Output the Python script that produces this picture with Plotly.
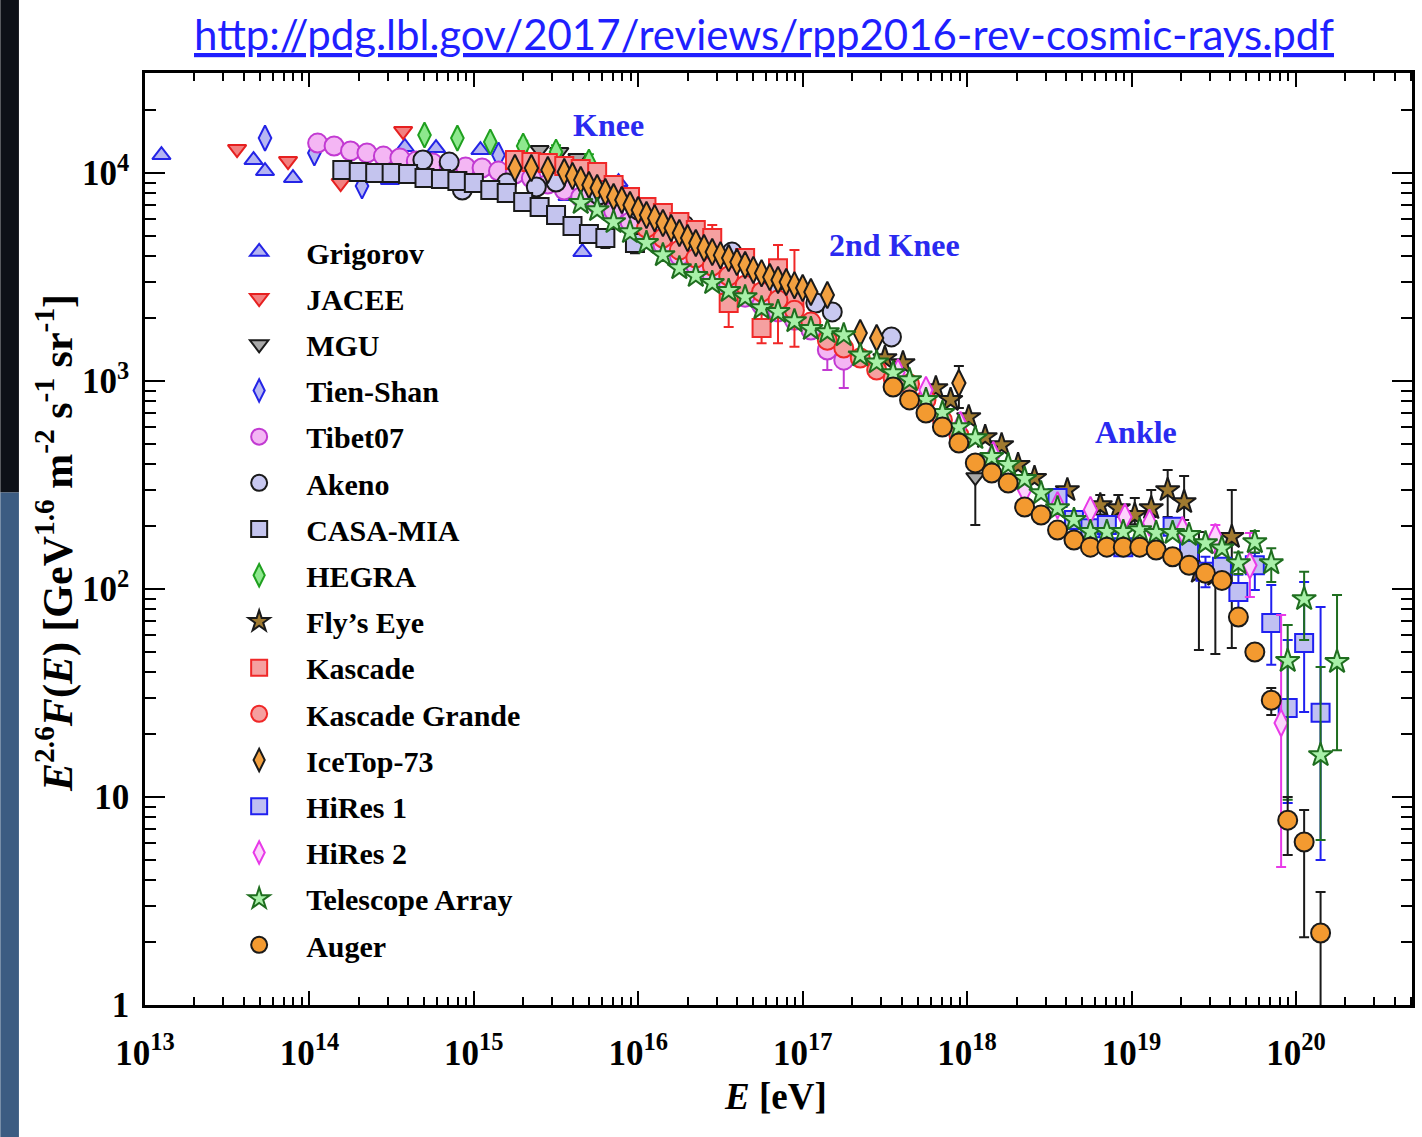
import numpy as np
import plotly.graph_objects as go

# ---------------- data: log10(E/eV) and E^2.6 F(E) [GeV^1.6 m^-2 s^-1 sr^-1] ----------------
grigorov_lgE = [13.10, 13.66, 13.73, 13.90, 14.49, 14.58, 14.77, 15.04, 15.57, 15.66, 15.88]
grigorov_F = [12200, 11550, 10220, 9460, 9250, 13340, 13180, 12900, 7750, 4170, 9050]

jacee_lgE = [13.56, 13.87, 14.19, 14.57]
jacee_F = [13040, 11420, 8950, 15920]

mgu_lgE = [15.40, 15.52, 15.63, 16.00, 18.05]
mgu_F = [12900, 12620, 11810, 7180, 345]
mgu_err = {18.05: (373, 203)}

tienshan_lgE = [13.73, 14.03, 14.32, 15.15]
tienshan_F = [14720, 12480, 8660, 12200]

tibet_lgE = [14.05, 14.15, 14.25, 14.35, 14.45, 14.55, 14.65, 14.75, 14.85, 14.95, 15.05,
             15.15, 15.25, 15.35, 15.45, 15.55, 15.65, 15.75, 15.85, 15.95, 16.05, 16.15,
             16.25, 16.35, 16.45, 16.55, 16.65, 16.75, 16.85, 16.95, 17.05, 17.15, 17.25]
tibet_F = [13930, 13490, 12760, 12480, 12070, 11810, 11420, 11170, 10930, 10690, 10570,
           10220, 9890, 9460, 8850, 8290, 7670, 7100, 6570, 5810, 5150, 4510,
           3990, 3570, 3230, 2890, 2530, 2320, 2150, 1960, 1760, 1410, 1260]
tibet_err = {17.15: (1660, 1130), 17.25: (1500, 925)}

akeno_lgE = [14.69, 14.85, 14.93, 15.20, 15.38, 15.50, 15.76, 16.00, 16.28, 16.57, 16.82,
             17.08, 17.18, 17.54]
akeno_F = [11550, 11290, 8290, 8950, 8570, 9050, 7840, 6640, 5620, 4170, 2890, 2370, 2150, 1630]

casa_lgE = [14.20, 14.30, 14.40, 14.50, 14.60, 14.70, 14.80, 14.90, 15.00, 15.10, 15.20,
            15.30, 15.40, 15.50, 15.60, 15.70, 15.80, 15.98]
casa_F = [10340, 10110, 10000, 10000, 9890, 9460, 9360, 9150, 8950, 8290, 8010,
          7260, 6860, 6280, 5560, 5090, 4870, 4610]
casa_err = {15.80: (5100, 4360), 15.98: (4850, 4120)}

hegra_lgE = [14.70, 14.90, 15.10, 15.30, 15.50, 15.70]
hegra_F = [15230, 14720, 14100, 13490, 12620, 11290]
hegra_err = {15.30: (14300, 12700), 15.50: (13600, 11700), 15.70: (12300, 10300)}

flyseye_lgE = [17.50, 17.61, 17.81, 17.90, 18.01, 18.11, 18.21, 18.31, 18.41, 18.61, 18.81,
               18.92, 19.02, 19.12, 19.22, 19.32, 19.41, 19.51, 19.61]
flyseye_F = [1290, 1220, 925, 811, 671, 538, 492, 395, 342, 299, 253, 245, 227, 245, 299,
             262, 121, 117, 178]
flyseye_err = {18.81: (283, 228), 18.92: (283, 222), 19.02: (274, 205), 19.12: (299, 222),
               19.22: (373, 222), 19.32: (349, 215), 19.41: (188, 50.9), 19.51: (186, 48.7),
               19.61: (299, 52.0)}

kascade_lgE = [15.25, 15.35, 15.45, 15.55, 15.65, 15.75, 15.85, 15.95, 16.05, 16.15, 16.25,
               16.35, 16.45, 16.55, 16.65, 16.75, 16.85, 16.95]
kascade_F = [11550, 11290, 11170, 10810, 10450, 10110, 8760, 7670, 6860, 6420, 5810,
             5320, 4870, 2370, 3900, 1800, 3490, 2510]
kascade_err = {16.45: (5620, 4260), 16.55: (2740, 1820), 16.75: (2120, 1520),
               16.85: (4510, 1520), 16.95: (4260, 1460)}

kgrande_lgE = [16.05, 16.15, 16.25, 16.35, 16.45, 16.55, 16.65, 16.75, 16.85, 16.95, 17.05,
               17.15, 17.25, 17.35, 17.45, 17.55, 17.65, 17.75, 17.85, 17.95]
kgrande_F = [5440, 4870, 4260, 3900, 3570, 3200, 2890, 2680, 2450, 2190, 1920,
             1570, 1440, 1290, 1130, 1030, 967, 811, 649, 550]

icetop_lgE = [15.25, 15.35, 15.45, 15.55, 15.60, 15.65, 15.70, 15.75, 15.80, 15.85, 15.90,
              15.95, 16.00, 16.05, 16.10, 16.15, 16.20, 16.25, 16.30, 16.35, 16.40, 16.45,
              16.50, 16.55, 16.60, 16.65, 16.70, 16.75, 16.80, 16.85, 16.90, 16.95, 17.00,
              17.05, 17.15, 17.35, 17.45, 17.95]
icetop_F = [10570, 10570, 10340, 10110, 9670, 9250, 8760, 8470, 8100, 7670, 7420,
            7020, 6640, 6280, 6070, 5750, 5440, 5150, 4870, 4610, 4360, 4170,
            4030, 3900, 3730, 3610, 3420, 3300, 3160, 3060, 2990, 2890, 2800,
            2680, 2590, 1700, 1610, 978]
icetop_err = {17.95: (1180, 742)}

hires1_lgE = [18.55, 18.65, 18.75, 18.85, 18.95, 19.25, 19.35, 19.45, 19.55, 19.65, 19.75,
              19.85, 19.95, 20.05, 20.15]
hires1_F = [274, 215, 196, 203, 159, 199, 154, 121, 128, 96.8, 130, 68.7, 26.8, 55.0, 25.4]
hires1_err = {19.35: (172, 138), 19.45: (143, 102), 19.65: (117, 77.5), 19.75: (149, 98.9),
              19.85: (104.5, 43.2), 19.95: (56.9, 9.35), 20.05: (108, 25.6), 20.15: (81.9, 4.98)}

hires2_lgE = [17.58, 17.75, 17.96, 18.16, 18.35, 18.55, 18.75, 18.96, 19.11, 19.31, 19.51,
              19.72, 19.91]
hires2_F = [1100, 906, 614, 441, 299, 253, 240, 222, 208, 192, 178, 130, 22.7]
hires2_err = {19.51: (203, 150), 19.72: (186, 91.5), 19.91: (75.0, 4.61)}

ta_lgE = [15.65, 15.75, 15.85, 15.95, 16.05, 16.15, 16.25, 16.35, 16.45, 16.55, 16.65, 16.75,
          16.85, 16.95, 17.05, 17.15, 17.25, 17.35, 17.45, 17.55, 17.65, 17.75, 17.85, 17.95,
          18.05, 18.15, 18.25, 18.35, 18.45, 18.55, 18.65, 18.75, 18.85, 18.95, 19.05, 19.15,
          19.25, 19.35, 19.45, 19.55, 19.65, 19.75, 19.85, 19.95, 20.05, 20.15, 20.25]
ta_F = [7180, 6640, 5810, 5200, 4610, 4030, 3490, 3200, 2960, 2710, 2530, 2240,
        2150, 1940, 1780, 1720, 1660, 1330, 1230, 1090, 1010, 811, 702, 601,
        532, 432, 395, 338, 289, 245, 215, 188, 188, 188, 192, 186,
        186, 182, 166, 157, 133, 168, 133, 45.1, 89.5, 15.9, 44.6]
ta_err = {19.65: (150, 118), 19.75: (190, 150), 19.85: (157, 108), 19.95: (67.1, 9.7),
          20.05: (121, 56.9), 20.15: (42.2, 6.21), 20.25: (93.6, 16.8)}

auger_lgE = [17.55, 17.65, 17.75, 17.85, 17.95, 18.05, 18.15, 18.25, 18.35, 18.45, 18.55,
             18.65, 18.75, 18.85, 18.95, 19.05, 19.15, 19.25, 19.35, 19.45, 19.55, 19.65,
             19.75, 19.85, 19.95, 20.05, 20.15]
auger_F = [936, 811, 702, 601, 503, 404, 361, 323, 248, 227, 192, 172, 159, 159, 159, 159,
           154, 143, 130, 119, 110, 73.3, 49.8, 29.2, 7.74, 6.08, 2.22]
auger_err = {19.65: (80, 67), 19.75: (54, 46), 19.85: (33.4, 24.8), 19.95: (10.0, 5.26),
             20.05: (8.66, 2.12), 20.15: (3.49, 0.3)}

x_tick_exp = [13, 14, 15, 16, 17, 18, 19, 20]
y_tick_vals = [1, 10, 100, 1000, 10000]
y_tick_text = ["1", "10", "10<sup>2</sup>", "10<sup>3</sup>", "10<sup>4</sup>"]

# ---------------- styling ----------------
SERIF = "Liberation Serif"
datasets = [
    ("Grigorov", grigorov_lgE, grigorov_F, {}, "triangle-up", 16, "#b4b4f2", "#2424e6"),
    ("JACEE", jacee_lgE, jacee_F, {}, "triangle-down", 16, "#f28080", "#e62020"),
    ("MGU", mgu_lgE, mgu_F, mgu_err, "triangle-down", 16, "#a8a8a8", "#1a1a1a"),
    ("Tien-Shan", tienshan_lgE, tienshan_F, {}, "diamond-tall", 18, "#b8b8f2", "#2424e6"),
    ("Tibet07", tibet_lgE, tibet_F, tibet_err, "circle", 19, "#f4b6f4", "#c23ad2"),
    ("Akeno", akeno_lgE, akeno_F, {}, "circle", 19, "#c8c8f0", "#1a1a1a"),
    ("CASA-MIA", casa_lgE, casa_F, casa_err, "square", 18, "#c4c4ee", "#1a1a1a"),
    ("HEGRA", hegra_lgE, hegra_F, hegra_err, "diamond-tall", 18, "#8ee88e", "#1fa01f"),
    ("Fly\u2019s Eye", flyseye_lgE, flyseye_F, flyseye_err, "star", 18, "#a07a30", "#1a1a1a"),
    ("Kascade", kascade_lgE, kascade_F, kascade_err, "square", 18, "#f5a0a0", "#f02828"),
    ("Kascade Grande", kgrande_lgE, kgrande_F, {}, "circle", 19, "#f5a0a0", "#f02828"),
    ("IceTop-73", icetop_lgE, icetop_F, icetop_err, "diamond-tall", 19, "#f2a040", "#1a1a1a"),
    ("HiRes 1", hires1_lgE, hires1_F, hires1_err, "square", 18, "#c0c0f2", "#2020f0"),
    ("HiRes 2", hires2_lgE, hires2_F, hires2_err, "diamond-tall", 19, "#fcd4fc", "#e83ae8"),
    ("Telescope Array", ta_lgE, ta_F, ta_err, "star", 18, "#a8f0a8", "#1f6e1f"),
    ("Auger", auger_lgE, auger_F, auger_err, "circle", 19, "#f39a30", "#1a1a1a"),
]


def err_arrays(lgE, F, err):
    plus, minus = [], []
    for x, f in zip(lgE, F):
        if x in err:
            hi, lo = err[x]
            plus.append(hi - f)
            minus.append(f - lo)
        else:
            plus.append(0)
            minus.append(0)
    return plus, minus


fig = go.Figure()
for i, (name, lgE, F, err, sym, size, fill, edge) in enumerate(datasets):
    plus, minus = err_arrays(lgE, F, err)
    fig.add_trace(go.Scatter(
        x=np.power(10.0, lgE), y=F, mode="markers", name=name,
        legendgroup="g%d" % i,
        marker=dict(symbol=sym, size=size, color=fill, line=dict(color=edge, width=2)),
        error_y=dict(type="data", symmetric=False, array=plus, arrayminus=minus,
                     color=edge, thickness=2, width=5),
    ))

axis_common = dict(
    type="log", showgrid=False, zeroline=False, showline=True, linecolor="black",
    linewidth=2.5, mirror="allticks", ticks="inside", tickwidth=2, tickcolor="black",
    tickfont=dict(family=SERIF, size=35, color="black"),
)
fig.update_xaxes(
    **axis_common, range=[13, 20.706], tickmode="array",
    tickvals=[10.0 ** e for e in x_tick_exp],
    ticktext=["<b>10<sup>%d</sup></b>" % e for e in x_tick_exp],
    ticklen=14, ticklabelstandoff=15,
    minor=dict(ticks="inside", ticklen=8, tickwidth=2, tickcolor="black", dtick="D1"),
)
fig.update_yaxes(
    **axis_common, range=[0, 4.481], tickmode="array",
    tickvals=y_tick_vals, ticktext=["<b>%s</b>" % t for t in y_tick_text],
    ticklen=20, ticklabelstandoff=6,
    minor=dict(ticks="inside", ticklen=11, tickwidth=2, tickcolor="black", dtick="D1"),
)

notes = [("Knee", 15.82, 4.23), ("2nd Knee", 17.56, 3.654), ("Ankle", 19.03, 2.755)]
annotations = [
    dict(x=x, y=y, xref="x", yref="y", text="<b>%s</b>" % t, showarrow=False,
         font=dict(family=SERIF, size=32, color="#2a2af0"))
    for t, x, y in notes
]
annotations += [
    dict(x=0.4882, y=1.0418, xref="paper", yref="paper", showarrow=False,
         xanchor="center", yanchor="middle",
         text="<u>http://pdg.lbl.gov/2017/reviews/rpp2016-rev-cosmic-rays.pdf</u>",
         font=dict(family="Lato", size=42, color="#1f1fff")),
    dict(x=0.4976, y=-0.0987, xref="paper", yref="paper", showarrow=False,
         xanchor="center", yanchor="middle",
         text="<b><i>E</i> [eV]</b>", font=dict(family=SERIF, size=37, color="black")),
    dict(x=-0.0709, y=0.496, xref="paper", yref="paper", showarrow=False, textangle=-90,
         xanchor="center", yanchor="middle",
         text="<b><i>E</i><sup>2.6</sup><i>F</i>(<i>E</i>) [GeV<sup>1.6</sup> m<sup>-2</sup> "
              "s<sup>-1</sup> sr<sup>-1</sup>]</b>",
         font=dict(family=SERIF, size=42, color="black")),
]

shapes = [
    dict(type="rect", xref="paper", yref="paper", x0=-0.1142, x1=-0.0995, y0=0.55, y1=1.08,
         fillcolor="#0e1118", line=dict(width=0), layer="below"),
    dict(type="rect", xref="paper", yref="paper", x0=-0.1142, x1=-0.0995, y0=-0.15, y1=0.55,
         fillcolor="#3c5c82", line=dict(width=0), layer="below"),
]

fig.update_layout(
    width=1422, height=1137,
    margin=dict(l=145, r=7, t=73, b=132),
    paper_bgcolor="white", plot_bgcolor="white",
    font=dict(family=SERIF, color="black"),
    showlegend=True,
    legend=dict(
        x=0.053, y=0.836, xanchor="left", yanchor="top",
        bgcolor="rgba(0,0,0,0)", borderwidth=0,
        font=dict(family=SERIF, size=30, color="black", weight="bold"),
        traceorder="grouped", tracegroupgap=4.2, itemwidth=84,
    ),
    annotations=annotations,
    shapes=shapes,
)

fig.write_html("out.html")
